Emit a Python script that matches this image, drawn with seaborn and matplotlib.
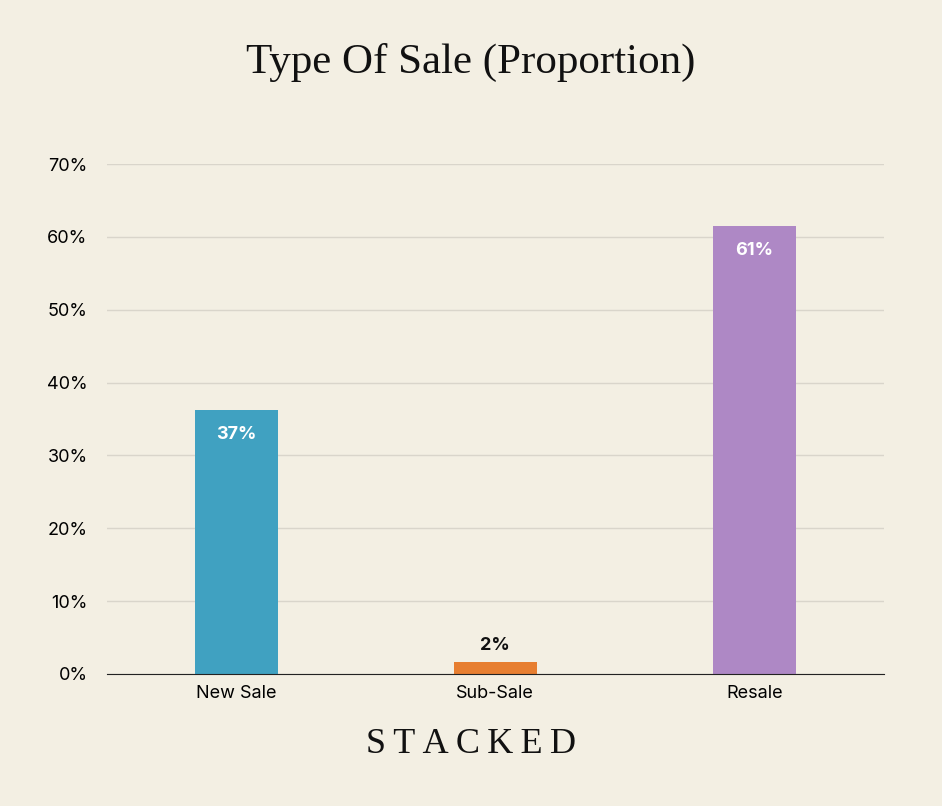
import matplotlib
matplotlib.use("Agg")
import matplotlib.pyplot as plt
import seaborn as sns
import pandas as pd

# Data
categories = ["New Sale", "Sub-Sale", "Resale"]
values = [36.2, 1.7, 61.5]
labels = ["37%", "2%", "61%"]
colors = ["#40A1C1", "#E77E30", "#AE88C5"]

bg = "#F3EFE3"
df = pd.DataFrame({"cat": categories, "val": values})

fig = plt.figure(figsize=(9.42, 8.06), dpi=100, facecolor=bg)
ax = fig.add_axes([0.1136, 0.1638, 0.8245, 0.6327], facecolor=bg)

sns.barplot(data=df, x="cat", y="val", hue="cat", palette=colors,
            width=0.32, saturation=1, legend=False, ax=ax, zorder=3)

ax.set_ylim(0, 70)
ax.set_xlim(-0.5, 2.5)
ax.set_yticks(range(0, 71, 10))
ax.set_yticklabels([f"{t}%" for t in range(0, 71, 10)], fontsize=13, fontfamily="Inter")
ax.tick_params(axis="y", length=0, pad=14)
ax.tick_params(axis="x", length=0, labelsize=13, pad=8)
for t in ax.get_xticklabels():
    t.set_fontfamily("Inter")
ax.grid(axis="y", color="#D9D5CB", linewidth=1, zorder=0)
ax.set_xlabel("")
ax.set_ylabel("")
for s in ["top", "right", "left"]:
    ax.spines[s].set_visible(False)
ax.spines["bottom"].set_color("#222222")
ax.spines["bottom"].set_zorder(4)

# value labels
for i, (v, lab) in enumerate(zip(values, labels)):
    if v > 10:
        ax.text(i, v - 2.2, lab, ha="center", va="top", color="white",
                fontsize=13, fontweight="bold", fontfamily="Inter", zorder=5)
    else:
        ax.text(i, v + 1.0, lab, ha="center", va="bottom", color="#111111",
                fontsize=13, fontweight="bold", fontfamily="Inter", zorder=5)

fig.text(0.5, 0.923, "Type Of Sale (Proportion)", ha="center", va="center",
         fontsize=31, fontfamily="Liberation Serif", color="#111111")
fig.text(0.5, 0.076, "S T A C K E D".replace(" ", "\u2009"), ha="center", va="center",
         fontsize=26, fontfamily="Liberation Serif", color="#111111")

fig.savefig("out.png", dpi=100, facecolor=bg)
